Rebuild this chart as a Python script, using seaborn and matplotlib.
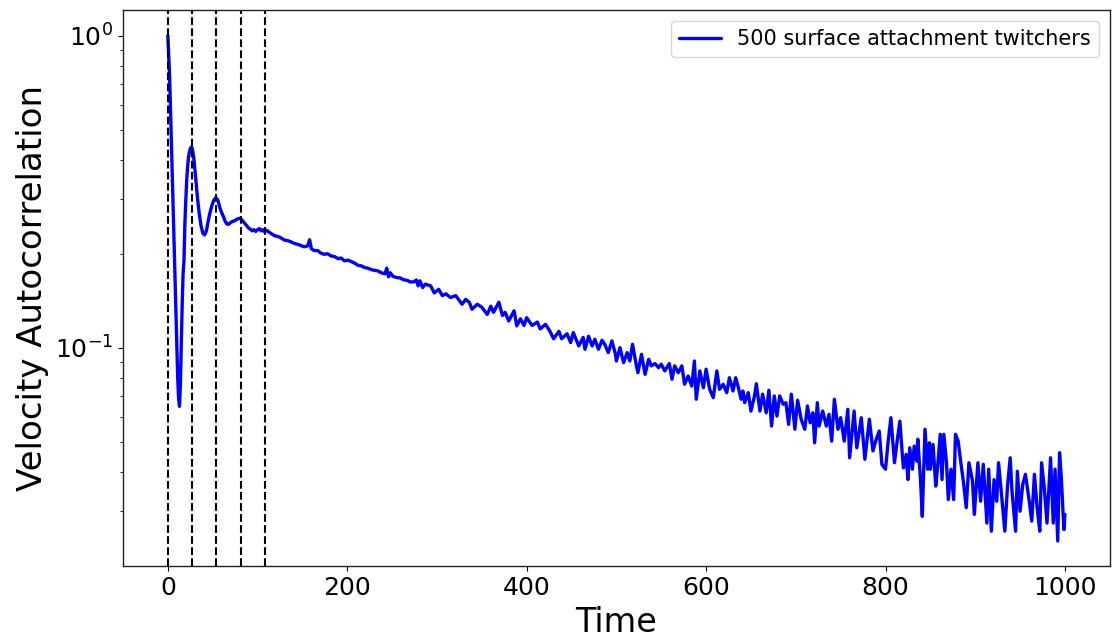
import matplotlib
matplotlib.use("Agg")
import matplotlib.pyplot as plt
import numpy as np
import pandas as pd
import seaborn as sns

# ---------------- data ----------------
time_early = [0, 2, 4, 6, 8, 10, 11, 12, 13, 14, 15, 16, 17, 18, 19, 20, 21, 22, 23, 24,
              25, 26, 27, 28, 29, 30, 31, 33, 35, 37, 39, 41, 43, 45, 47, 49, 51, 53, 54, 56,
              58, 60, 62, 64, 66, 68, 70, 72, 74, 76, 78, 80, 82, 84, 86, 88, 90, 92, 94, 96,
              98, 100, 102, 104, 106, 108]
acf_early = [1.0, 0.74, 0.45, 0.275, 0.168, 0.100, 0.080, 0.069, 0.065, 0.0765, 0.103, 0.138,
             0.173, 0.190, 0.250, 0.296, 0.343, 0.378, 0.407, 0.423, 0.434, 0.439, 0.437, 0.423,
             0.404, 0.375, 0.351, 0.303, 0.269, 0.246, 0.233, 0.230, 0.237, 0.255, 0.271, 0.285,
             0.296, 0.302, 0.302, 0.296, 0.281, 0.271, 0.263, 0.254, 0.249, 0.249, 0.252, 0.254,
             0.255, 0.257, 0.259, 0.260, 0.258, 0.254, 0.250, 0.246, 0.242, 0.240, 0.237, 0.239,
             0.236, 0.239, 0.241, 0.237, 0.239, 0.235]

time_mid = [110, 114, 119, 124, 130, 135, 141, 146, 152, 156, 158, 160, 163, 167, 170, 174,
            178, 182, 186, 190, 193, 197, 201, 205, 208, 212, 216, 219, 223, 227, 231, 234,
            238, 242, 244, 246, 248, 251, 255, 259, 263, 267, 270, 274, 277, 279,
            281, 284, 287, 293, 297, 302, 306, 310, 315, 321, 324, 328, 332, 336, 339, 345,
            350, 356, 360, 363, 369, 373, 376, 380, 386, 389, 393, 397, 400, 406, 412, 415,
            421, 426, 430, 436, 439, 445, 449, 452, 458]
acf_mid = [0.238, 0.2336, 0.2286, 0.2268, 0.2215, 0.220, 0.216, 0.214, 0.2107, 0.2123, 0.222,
           0.2077, 0.205, 0.205, 0.2016, 0.1994, 0.2002, 0.197, 0.196, 0.193, 0.194, 0.190,
           0.191, 0.1887, 0.187, 0.1838, 0.183, 0.181, 0.180, 0.178, 0.177, 0.1765, 0.174,
           0.1727, 0.180, 0.169, 0.174, 0.1694, 0.168, 0.1675, 0.1652, 0.1645, 0.1627, 0.1627,
           0.165, 0.158,
           0.164, 0.156, 0.160, 0.158, 0.150, 0.154, 0.147, 0.149, 0.145, 0.147, 0.143, 0.138,
           0.143, 0.140, 0.133, 0.138, 0.135, 0.128, 0.136, 0.130, 0.140, 0.127, 0.130, 0.122,
           0.1315, 0.1176, 0.124, 0.118, 0.125, 0.118, 0.121, 0.115, 0.119, 0.113, 0.107,
           0.113, 0.107, 0.111, 0.104, 0.112, 0.1015]

time_late = [463, 465, 469, 473, 476, 480, 484, 487, 491, 495, 499, 500, 504, 508, 512, 515,
             518, 522, 524, 528, 532, 536, 539, 543, 547, 550, 554, 559, 562, 565, 569, 573,
             576, 580, 584, 587, 589, 593, 597, 600, 604, 608, 612, 615, 619, 623, 626, 630,
             633,
             636, 639, 641, 643, 647, 650, 654, 656, 660, 663, 667, 670, 673, 676, 679, 682,
             686, 689, 692, 695, 699, 702, 706, 710, 713, 716, 719, 721, 724, 726, 730, 734,
             737, 740, 743, 747, 750, 754, 758, 760, 765, 768, 773, 777, 782, 786, 789, 793,
             796, 800, 803, 806, 810, 813, 816, 819]
acf_late = [0.108, 0.099, 0.109, 0.1015, 0.1066, 0.099, 0.1058, 0.1027, 0.0966, 0.1053, 0.0954,
            0.0908, 0.1002, 0.0897, 0.0966, 0.0908, 0.1027, 0.0887, 0.0833, 0.0954, 0.0823,
            0.092, 0.0876, 0.0891, 0.0865, 0.0887, 0.0844, 0.0891, 0.0794, 0.0876, 0.0833,
            0.0876, 0.0765, 0.0813, 0.0755, 0.0908, 0.0685, 0.0844, 0.0746, 0.0855, 0.0737,
            0.0693, 0.0844, 0.0737, 0.0765, 0.0719, 0.0803, 0.0728, 0.0803,
            0.0746, 0.0685, 0.0728, 0.0668, 0.0719, 0.0628, 0.0702, 0.0768, 0.0628, 0.0711,
            0.062, 0.0732, 0.0562, 0.0702, 0.0605, 0.0702, 0.066, 0.0668, 0.0569, 0.0711,
            0.0549, 0.068, 0.0591, 0.0549, 0.0652, 0.0576, 0.062, 0.0497, 0.0668, 0.0562,
            0.0628, 0.0562, 0.0613, 0.0503, 0.0685, 0.0549, 0.0598, 0.0503, 0.0636, 0.0445,
            0.0628, 0.0479, 0.0598, 0.044, 0.0591, 0.0468, 0.0503, 0.0542, 0.0424, 0.0409,
            0.0503, 0.0598, 0.0429, 0.0503, 0.0583, 0.0445]

time_tail = [820, 823, 825, 827, 830, 832, 835, 836, 839, 841, 844, 847, 849, 850, 853, 856,
             858, 861, 863, 865, 868, 870, 873, 876, 878, 881, 884, 887, 890, 893, 897, 899,
             903, 906, 909, 913, 915, 918, 921, 924, 926, 929, 933, 936, 939, 941, 945, 947,
             950, 953, 956, 960, 963, 966, 969, 972, 974, 977, 980, 984, 987, 989, 992, 994,
             996, 998, 999, 1000]
acf_tail = [0.0413, 0.0456, 0.0379, 0.0479, 0.0409, 0.0485, 0.0434, 0.051, 0.0379, 0.0289,
            0.0549, 0.0409, 0.0497, 0.0409, 0.0491, 0.0361, 0.0413, 0.0529, 0.0379, 0.0529,
            0.0429, 0.0327, 0.0409, 0.0327, 0.0529, 0.0503, 0.0429, 0.037, 0.0308, 0.0429,
            0.0375, 0.0293, 0.0429, 0.0323, 0.0424, 0.0275, 0.0409, 0.0259, 0.0379, 0.0323,
            0.0429, 0.0348, 0.0259, 0.0361, 0.0445, 0.0348, 0.0259, 0.0403, 0.030, 0.0366,
            0.0394, 0.0327, 0.0279, 0.0394, 0.0308, 0.0259, 0.0429, 0.0357, 0.0275, 0.0445,
            0.0275, 0.0409, 0.0241, 0.0462, 0.0384, 0.0293, 0.0262, 0.0293]

dashed_times = [0, 27, 54, 81, 108]
series_label = "500 surface attachment twitchers"

# ---------------- plot ----------------
sns.set_style("ticks")
plt.rcParams['font.family'] = ['DejaVu Sans']
plt.rcParams['text.color'] = 'black'
plt.rcParams['axes.labelcolor'] = 'black'
plt.rcParams['xtick.color'] = 'black'
plt.rcParams['ytick.color'] = 'black'

df = pd.DataFrame({
    "Time": time_early + time_mid + time_late + time_tail,
    "acf": acf_early + acf_mid + acf_late + acf_tail,
})

fig, ax = plt.subplots(figsize=(11.12, 6.42), dpi=100)
fig.subplots_adjust(left=0.1106, right=0.998, top=0.984, bottom=0.118)

sns.lineplot(data=df, x="Time", y="acf", color="blue", lw=2.4, estimator=None,
             sort=True, label=series_label, ax=ax)
ax.set_yscale("log")
for t0 in dashed_times:
    ax.axvline(t0, color="black", ls="--", lw=1.5)

ax.set_xlabel("Time", fontsize=24)
ax.set_ylabel("Velocity Autocorrelation", fontsize=24.5)
ax.tick_params(axis="both", which="major", labelsize=18)
for sp in ax.spines.values():
    sp.set_color("#222222")
    sp.set_linewidth(1.0)
ax.legend(loc="upper right", fontsize=15)

fig.savefig("out.png", dpi=100)
